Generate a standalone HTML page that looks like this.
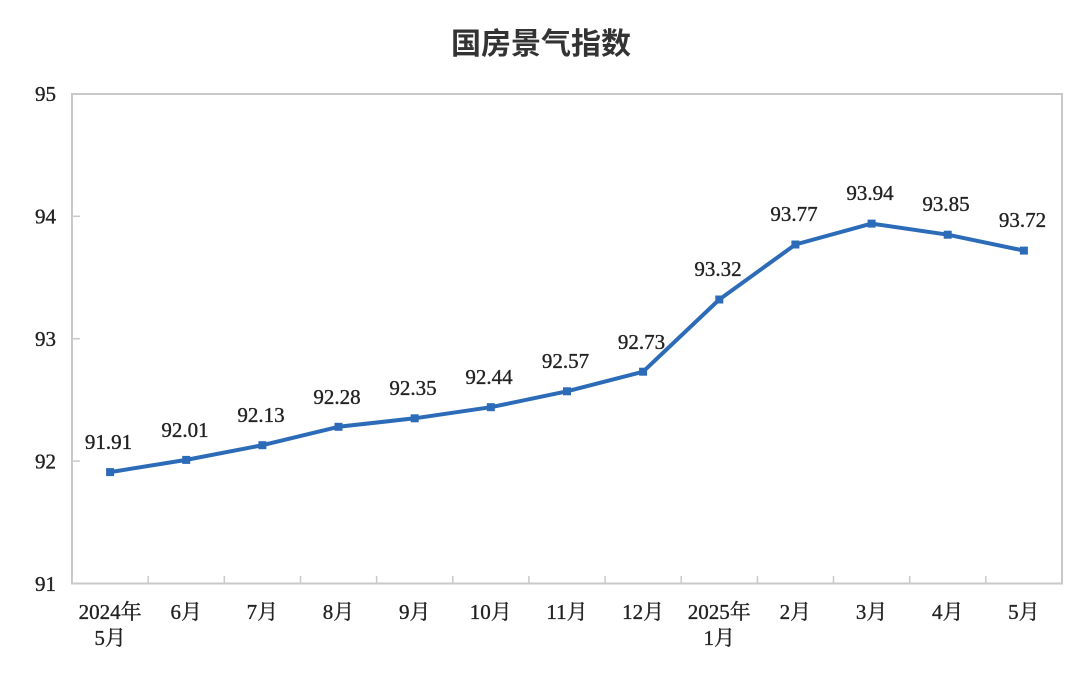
<!DOCTYPE html>
<html>
<head>
<meta charset="utf-8">
<style>
html,body{margin:0;padding:0;background:#fff;}
svg{display:block;}
.t{font-family:"Liberation Serif","Noto Serif CJK SC",serif;font-size:21px;fill:#222;stroke:#222;stroke-width:0.35;}
</style>
</head>
<body>
<svg width="1080" height="688" viewBox="0 0 1080 688" xmlns="http://www.w3.org/2000/svg">
<rect width="1080" height="688" fill="#fff"/>
<text x="541" y="54" text-anchor="middle" font-family="Liberation Sans, Noto Sans CJK SC, sans-serif" font-size="30" font-weight="bold" fill="#333">国房景气指数</text>
<!-- plot frame -->
<rect x="72" y="94" width="990" height="489.5" fill="none" stroke="#c9c9c9" stroke-width="2"/>
<!-- ticks -->
<g stroke="#c9c9c9" stroke-width="1.5">
<line x1="72" y1="216.3" x2="80" y2="216.3"/>
<line x1="72" y1="338.7" x2="80" y2="338.7"/>
<line x1="72" y1="461.1" x2="80" y2="461.1"/>
<line x1="148.2" y1="583.5" x2="148.2" y2="576"/>
<line x1="224.3" y1="583.5" x2="224.3" y2="576"/>
<line x1="300.5" y1="583.5" x2="300.5" y2="576"/>
<line x1="376.6" y1="583.5" x2="376.6" y2="576"/>
<line x1="452.8" y1="583.5" x2="452.8" y2="576"/>
<line x1="528.9" y1="583.5" x2="528.9" y2="576"/>
<line x1="605.1" y1="583.5" x2="605.1" y2="576"/>
<line x1="681.2" y1="583.5" x2="681.2" y2="576"/>
<line x1="757.4" y1="583.5" x2="757.4" y2="576"/>
<line x1="833.5" y1="583.5" x2="833.5" y2="576"/>
<line x1="909.7" y1="583.5" x2="909.7" y2="576"/>
<line x1="985.8" y1="583.5" x2="985.8" y2="576"/>
</g>
<!-- y labels -->
<g class="t" text-anchor="end">
<text x="56" y="101">95</text>
<text x="56" y="223.5">94</text>
<text x="56" y="346">93</text>
<text x="56" y="468.5">92</text>
<text x="56" y="591">91</text>
</g>
<!-- x labels -->
<g class="t" text-anchor="middle">
<text x="110.1" y="619">2024年</text>
<text x="110.1" y="645">5月</text>
<text x="186.2" y="619">6月</text>
<text x="262.4" y="619">7月</text>
<text x="338.5" y="619">8月</text>
<text x="414.7" y="619">9月</text>
<text x="490.8" y="619">10月</text>
<text x="567.0" y="619">11月</text>
<text x="643.1" y="619">12月</text>
<text x="719.3" y="619">2025年</text>
<text x="719.3" y="645">1月</text>
<text x="795.4" y="619">2月</text>
<text x="871.6" y="619">3月</text>
<text x="947.7" y="619">4月</text>
<text x="1023.9" y="619">5月</text>
</g>
<!-- series -->
<polyline fill="none" stroke="#2c6bb7" stroke-width="4" stroke-linejoin="round" points="110.1,472.1 186.2,459.9 262.4,445.2 338.5,426.8 414.7,418.3 490.8,407.2 567.0,391.3 643.1,371.7 719.3,299.5 795.4,244.5 871.6,223.6 947.7,234.7 1023.9,250.6"/>
<g fill="#2c6bb7">
<rect x="106.1" y="468.1" width="8" height="8"/>
<rect x="182.2" y="455.9" width="8" height="8"/>
<rect x="258.4" y="441.2" width="8" height="8"/>
<rect x="334.5" y="422.8" width="8" height="8"/>
<rect x="410.7" y="414.3" width="8" height="8"/>
<rect x="486.8" y="403.2" width="8" height="8"/>
<rect x="563.0" y="387.3" width="8" height="8"/>
<rect x="639.1" y="367.7" width="8" height="8"/>
<rect x="715.3" y="295.5" width="8" height="8"/>
<rect x="791.4" y="240.5" width="8" height="8"/>
<rect x="867.6" y="219.6" width="8" height="8"/>
<rect x="943.7" y="230.7" width="8" height="8"/>
<rect x="1019.9" y="246.6" width="8" height="8"/>
</g>
<!-- data labels -->
<g class="t" text-anchor="middle">
<text x="108.5" y="449">91.91</text>
<text x="185" y="437">92.01</text>
<text x="261" y="422">92.13</text>
<text x="337" y="404">92.28</text>
<text x="413" y="395">92.35</text>
<text x="489" y="384">92.44</text>
<text x="565.5" y="368">92.57</text>
<text x="641.5" y="349">92.73</text>
<text x="718" y="276">93.32</text>
<text x="794" y="221">93.77</text>
<text x="870" y="200">93.94</text>
<text x="946" y="211">93.85</text>
<text x="1022.5" y="227">93.72</text>
</g>
</svg>
</body>
</html>
